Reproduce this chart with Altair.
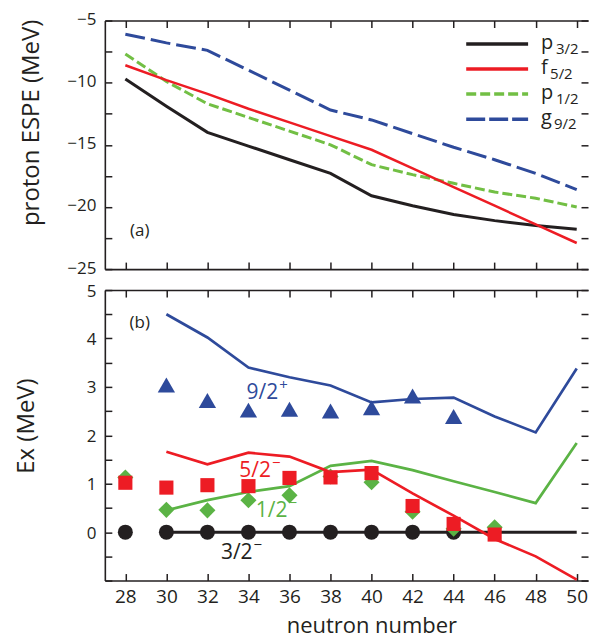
import altair as alt
import pandas as pd

# ---------------- data ----------------
neutron_n = [28, 30, 32, 34, 36, 38, 40, 42, 44, 46, 48, 50]

# panel (a): proton effective single-particle energies (MeV)
espe_p32 = [-9.7, -11.9, -14.0, -15.1, -16.2, -17.3, -19.1, -19.9, -20.6, -21.1, -21.5, -21.8]
espe_f52 = [-8.6, -9.8, -10.9, -12.1, -13.2, -14.3, -15.4, -16.9, -18.4, -19.9, -21.4, -22.9]
espe_p12 = [-7.7, -9.9, -11.7, -12.8, -13.9, -15.0, -16.6, -17.4, -18.1, -18.8, -19.3, -20.0]
espe_g92 = [-6.1, -6.8, -7.4, -9.0, -10.6, -12.2, -13.0, -14.1, -15.2, -16.2, -17.3, -18.6]

orbital_main = ["p", "f", "p", "g"]
orbital_sub = ["3/2", "5/2", "1/2", "9/2"]

# panel (b): excitation energies (MeV), calculation (lines)
calc_n = [30, 32, 34, 36, 38, 40, 42, 44, 46, 48, 50]
calc_92 = [4.50, 4.02, 3.40, 3.20, 3.03, 2.68, 2.75, 2.78, 2.39, 2.06, 3.38]
calc_52 = [1.66, 1.40, 1.64, 1.56, 1.24, 1.29, 0.80, 0.34, -0.14, -0.50, -0.98]
calc_12 = [0.45, 0.66, 0.83, 0.95, 1.37, 1.47, 1.28, 1.05, 0.83, 0.60, 1.84]
calc_32 = [0, 0, 0, 0, 0, 0, 0, 0, 0, 0, 0]

# panel (b): experiment (symbols)
exp_32_n = [28, 30, 32, 34, 36, 38, 40, 42, 44]
exp_32 = [0, 0, 0, 0, 0, 0, 0, 0, 0]
exp_52_n = [28, 30, 32, 34, 36, 38, 40, 42, 44, 46]
exp_52 = [1.02, 0.92, 0.97, 0.95, 1.12, 1.13, 1.22, 0.54, 0.17, -0.05]
exp_12_n = [28, 30, 32, 34, 36, 38, 40, 42, 44, 46]
exp_12 = [1.13, 0.46, 0.45, 0.66, 0.76, 1.15, 1.03, 0.42, 0.07, 0.10]
exp_92_n = [30, 32, 34, 36, 38, 40, 42, 44]
exp_92 = [3.04, 2.72, 2.52, 2.54, 2.50, 2.57, 2.81, 2.39]

state_main = ["9/2", "5/2", "1/2", "3/2"]
state_sup = ["+", "\u2212", "\u2212", "\u2212"]
state_n = [35.45, 35.1, 35.9, 34.2]
state_ex = [2.76, 1.14, 0.31, -0.55]

panel_tags = ["(a)", "(b)"]
tag_n = [28.7, 28.7]
tag_val = [-21.93, 4.32]

x_ticks = [28, 30, 32, 34, 36, 38, 40, 42, 44, 46, 48, 50]
espe_labels = [-25, -20, -15, -10, -5]
espe_ticks = [-25, -22.5, -20, -17.5, -15, -12.5, -10, -7.5, -5]
ex_labels = [0, 1, 2, 3, 4, 5]
ex_ticks = [-1, -0.5, 0, 0.5, 1, 1.5, 2, 2.5, 3, 3.5, 4, 4.5, 5]

# ---------------- style ----------------
BLACK = "#231f20"
RED = "#ed1c24"
GREEN = "#5bb345"
GREEN_D = "#72bf44"
BLUE = "#2e4a9b"
FONT = "Open Sans"
W = 484
H_TOP = 249
H_BOT = 291
FRAME = 1.6

xsc = alt.Scale(domain=[27, 50.55], nice=False, zero=False)
ysc_top = alt.Scale(domain=[-25, -5], nice=False, zero=False)
ysc_bot = alt.Scale(domain=[-1, 5], nice=False, zero=False)


def enc(chart, ysc):
    return chart.encode(
        x=alt.X("n:Q", scale=xsc, axis=None),
        y=alt.Y("v:Q", scale=ysc, axis=None),
    )


def line_layer(n, vals, ysc, color, width, dash=None):
    df = pd.DataFrame({"n": n, "v": vals})
    kw = dict(color=color, strokeWidth=width)
    if dash:
        kw["strokeDash"] = dash
    return enc(alt.Chart(df).mark_line(**kw), ysc)


def point_layer(n, vals, ysc, color, shape, size):
    df = pd.DataFrame({"n": n, "v": vals})
    return enc(
        alt.Chart(df).mark_point(shape=shape, filled=True, size=size, color=color, opacity=1),
        ysc,
    )


def axis_layers(ysc, H, y_labels, y_ticks, y_title, title_x, title_y, show_x, lab_off):
    df = pd.DataFrame({"n": [x_ticks[0]], "v": [y_ticks[0]]})
    base = alt.Chart(df).mark_point(opacity=0)
    if show_x:
        x1 = alt.Axis(orient="bottom", values=x_ticks, ticks=False, domain=False,
                      labelPadding=7, labelFlush=False, labelFontSize=19,
                      title="neutron number", titleFontSize=22,
                      titleX=267, titleY=52, titleBaseline="alphabetic")
    else:
        x1 = None
    y1 = alt.Axis(orient="left", values=y_labels, ticks=False, domain=False,
                  labelPadding=9, labelFlush=False, labelFontSize=17, labelOffset=lab_off,
                  title=y_title, titleFontSize=24, titleX=title_x, titleY=title_y,
                  titleBaseline="alphabetic")
    l1 = base.encode(x=alt.X("n:Q", scale=xsc, axis=x1), y=alt.Y("v:Q", scale=ysc, axis=y1))
    frame_kw = dict(domain=True, domainColor=BLACK, domainWidth=FRAME, labels=False,
                    tickSize=7, title="")
    # bottom edge (ticks up) + left edge (ticks right)
    l2 = base.encode(
        x=alt.X("n:Q", scale=xsc, axis=alt.Axis(orient="top", offset=-H, values=x_ticks, **frame_kw)),
        y=alt.Y("v:Q", scale=ysc, axis=alt.Axis(orient="right", offset=-W, values=y_ticks, **frame_kw)),
    )
    # top edge (ticks down) + right edge (ticks left, frame line cropped)
    l3 = base.encode(
        x=alt.X("n:Q", scale=xsc, axis=alt.Axis(orient="bottom", offset=-H, values=x_ticks, **frame_kw)),
        y=alt.Y("v:Q", scale=ysc, axis=alt.Axis(orient="left", offset=-W, values=y_ticks,
                                              domain=False, labels=False, tickSize=7, title="")),
    )
    return [l1, l2, l3]


def tag_layer(i, ysc):
    df = pd.DataFrame({"n": [tag_n[i]], "v": [tag_val[i]], "t": [panel_tags[i]]})
    return enc(alt.Chart(df).mark_text(fontSize=17, color=BLACK, baseline="middle"), ysc).encode(text="t:N")


# ---------------- panel (a) ----------------
top_layers = [
    line_layer(neutron_n, espe_p32, ysc_top, BLACK, 3),
    line_layer(neutron_n, espe_p12, ysc_top, GREEN_D, 3, [10, 4]),
    line_layer(neutron_n, espe_g92, ysc_top, BLUE, 3, [20, 6]),
    line_layer(neutron_n, espe_f52, ysc_top, RED, 2.5),
    tag_layer(0, ysc_top),
]

leg_colors = [BLACK, RED, GREEN_D, BLUE]
leg_dash = [None, None, [10, 4], [19, 4]]
leg_rows = [23.5, 48.5, 73.5, 99.0]
leg_sub_x = [452, 446, 452, 450]
for i in range(4):
    df = pd.DataFrame({"m": [orbital_main[i]], "s": [orbital_sub[i]]})
    kw = dict(color=leg_colors[i], strokeWidth=3.5)
    if leg_dash[i]:
        kw["strokeDash"] = leg_dash[i]
    top_layers.append(alt.Chart(df).mark_rule(**kw).encode(
        x=alt.value(362), x2=alt.value(424), y=alt.value(leg_rows[i])))
    top_layers.append(alt.Chart(df).mark_text(fontSize=20, align="left", baseline="alphabetic",
                                              color=BLACK).encode(
        x=alt.value(437), y=alt.value(leg_rows[i] + 5), text="m:N"))
    top_layers.append(alt.Chart(df).mark_text(fontSize=15, align="left", baseline="alphabetic",
                                              color=BLACK).encode(
        x=alt.value(leg_sub_x[i]), y=alt.value(leg_rows[i] + 10), text="s:N"))

top_layers += axis_layers(ysc_top, H_TOP, espe_labels, espe_ticks, "proton ESPE (MeV)",
                          -66, 102, False, -1)
top = alt.layer(*top_layers).resolve_axis(x="independent", y="independent").properties(
    width=W, height=H_TOP)

# ---------------- panel (b) ----------------
state_colors = [BLUE, RED, GREEN, BLACK]
bot_layers = [
    line_layer(calc_n, calc_32, ysc_bot, BLACK, 3),
    line_layer(calc_n, calc_12, ysc_bot, GREEN, 2.7),
    line_layer(calc_n, calc_52, ysc_bot, RED, 2.7),
    line_layer(calc_n, calc_92, ysc_bot, BLUE, 2.7),
    point_layer(exp_32_n, exp_32, ysc_bot, BLACK, "circle", 225),
    point_layer(exp_12_n, exp_12, ysc_bot, GREEN, "diamond", 260),
    point_layer(exp_52_n, exp_52, ysc_bot, RED, "square", 200),
    point_layer(exp_92_n, exp_92, ysc_bot, BLUE, "triangle-up", 300),
    tag_layer(1, ysc_bot),
]
for i in range(4):
    df = pd.DataFrame({"n": [state_n[i]], "v": [state_ex[i]],
                       "m": [state_main[i]], "s": [state_sup[i]]})
    bot_layers.append(enc(alt.Chart(df).mark_text(fontSize=21, align="right", baseline="alphabetic",
                                                  color=state_colors[i]), ysc_bot).encode(text="m:N"))
    bot_layers.append(enc(alt.Chart(df).mark_text(fontSize=15, align="left", baseline="alphabetic",
                                                  dx=1, dy=-9, color=state_colors[i]), ysc_bot).encode(text="s:N"))

bot_layers += axis_layers(ysc_bot, H_BOT, ex_labels, ex_ticks, "Ex  (MeV)", -71, 135.7, True, 1)
bottom = alt.layer(*bot_layers).resolve_axis(x="independent", y="independent").properties(
    width=W, height=H_BOT)

chart = alt.vconcat(top, bottom, spacing=21, bounds="flush").properties(
    padding={"left": 6, "top": 2, "right": 0, "bottom": 2}
).configure_view(
    stroke="transparent", strokeWidth=0
).configure_axis(
    grid=False, labelFont=FONT, titleFont=FONT, labelColor=BLACK, titleColor=BLACK,
    tickColor=BLACK, tickWidth=1.5, titleFontWeight="normal"
).configure_text(font=FONT)

chart.save("out.html", embed_options={"renderer": "svg", "actions": False})
